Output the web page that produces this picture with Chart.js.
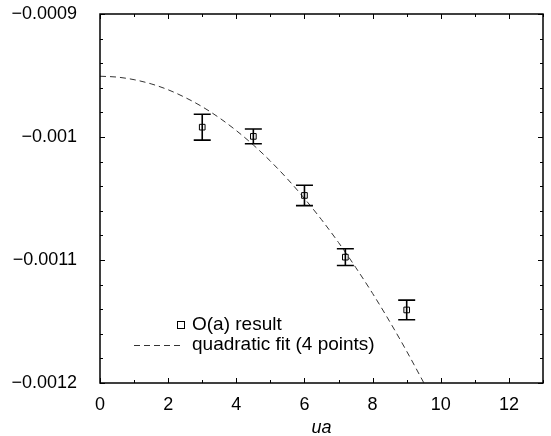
<!DOCTYPE html>
<html>
<head>
<meta charset="utf-8">
<script src="https://cdn.jsdelivr.net/npm/chart.js@4/dist/chart.umd.min.js"></script>
<style>
  html, body { margin: 0; padding: 0; background: #fff; }
  #wrap { width: 551px; height: 436px; }
</style>
</head>
<body>
<div id="wrap"><canvas id="chart" width="551" height="436"></canvas></div>
<script>
// dane
const uaValues = [3, 4.5, 6, 7.2, 9];
const resultValues = [-0.000992, -0.0009995, -0.0010475, -0.0010977, -0.0011406];
const resultErrors = [0.0000105, 0.000006, 0.0000083, 0.0000068, 0.000008];

// krzywa dopasowania
const fitX = [0, 0.5, 1, 1.5, 2, 2.5, 3, 3.5, 4, 4.5, 5, 5.5, 6, 6.5, 7, 7.5, 8, 8.5, 9, 9.5];
const fitY = [-0.0009506, -0.0009513, -0.0009534, -0.0009568, -0.0009616, -0.0009679, -0.0009754,
              -0.0009844, -0.0009948, -0.0010065, -0.0010196, -0.0010341, -0.00105, -0.0010672,
              -0.0010858, -0.0011059, -0.0011272, -0.00115, -0.0011742, -0.0011997];

const xTicks = [0, 2, 4, 6, 8, 10, 12];
const yTicks = [-0.0009, -0.001, -0.0011, -0.0012];
const yTickLabels = ['\u22120.0009', '\u22120.001', '\u22120.0011', '\u22120.0012'];

const legendLabels = ['O(a) result', 'quadratic fit (4 points)'];
const FONT = '"Liberation Sans", Arial, Helvetica, sans-serif';

// --- ramka, ticki do środka, słupki błędów, legenda ---
const framePlugin = {
    id: 'frame',
    afterDatasetsDraw(chart) {
        const ctx = chart.ctx;
        const { left, right, top, bottom } = chart.chartArea;
        const xs = chart.scales.x;
        const ys = chart.scales.y;
        ctx.save();

        // słupki błędów
        ctx.strokeStyle = '#000';
        ctx.lineWidth = 1.6;
        uaValues.forEach((u, i) => {
            const px = xs.getPixelForValue(u);
            const yHi = ys.getPixelForValue(resultValues[i] + resultErrors[i]);
            const yLo = ys.getPixelForValue(resultValues[i] - resultErrors[i]);
            ctx.beginPath();
            ctx.moveTo(px, yHi); ctx.lineTo(px, yLo);
            ctx.moveTo(px - 8.5, yHi); ctx.lineTo(px + 8.5, yHi);
            ctx.moveTo(px - 8.5, yLo); ctx.lineTo(px + 8.5, yLo);
            ctx.stroke();
        });

        // ramka
        ctx.lineWidth = 1.5;
        ctx.strokeRect(left, top, right - left, bottom - top);

        // ticki
        ctx.lineWidth = 1;
        ctx.beginPath();
        for (let v = 0; v <= 13; v += 1) {
            const px = Math.round(xs.getPixelForValue(v)) + 0.5;
            const len = (v % 2 === 0) ? 5 : 3;
            ctx.moveTo(px, bottom); ctx.lineTo(px, bottom - len);
            ctx.moveTo(px, top); ctx.lineTo(px, top + len);
        }
        for (let k = 0; k <= 15; k++) {
            const v = -0.0012 + k * 0.00002;
            const py = Math.round(ys.getPixelForValue(v)) + 0.5;
            const len = (k % 5 === 0) ? 5 : 3;
            ctx.moveTo(left, py); ctx.lineTo(left + len, py);
            ctx.moveTo(right, py); ctx.lineTo(right - len, py);
        }
        ctx.stroke();

        // legenda
        ctx.fillStyle = '#000';
        ctx.font = '19px ' + FONT;
        ctx.textBaseline = 'middle';
        ctx.textAlign = 'left';
        ctx.lineWidth = 1;
        ctx.strokeRect(177.5, 321.5, 7, 7);
        ctx.fillText(legendLabels[0], 192, 325);
        ctx.strokeStyle = '#333';
        ctx.setLineDash([6, 4]);
        ctx.beginPath();
        ctx.moveTo(134, 345.5); ctx.lineTo(182, 345.5);
        ctx.stroke();
        ctx.setLineDash([]);
        ctx.fillText(legendLabels[1], 192, 345);

        ctx.restore();
    }
};

new Chart(document.getElementById('chart'), {
    type: 'scatter',
    data: {
        datasets: [
            {
                label: legendLabels[0],
                data: uaValues.map((u, i) => ({ x: u, y: resultValues[i] })),
                pointStyle: 'rect',
                pointRadius: 4,
                pointBorderWidth: 1,
                pointBorderColor: '#000',
                pointBackgroundColor: 'rgba(0,0,0,0)',
                showLine: false
            },
            {
                label: legendLabels[1],
                data: fitX.map((x, i) => ({ x: x, y: fitY[i] })),
                showLine: true,
                borderColor: '#333',
                borderWidth: 1,
                borderDash: [6, 4],
                pointRadius: 0,
                cubicInterpolationMode: 'monotone',
                fill: false
            }
        ]
    },
    options: {
        responsive: false,
        animation: false,
        layout: { padding: { top: 14, right: 8, left: 0, bottom: 0 } },
        plugins: {
            legend: { display: false },
            tooltip: { enabled: false }
        },
        scales: {
            x: {
                type: 'linear',
                min: 0,
                max: 13,
                grid: { display: false },
                border: { display: false },
                afterBuildTicks: (scale) => { scale.ticks = xTicks.map(v => ({ value: v })); },
                afterFit: (scale) => {
                    scale.height = 53;
                    scale.paddingLeft = 0;
                    scale.paddingRight = 0;
                },
                ticks: {
                    color: '#000',
                    padding: 3,
                    maxRotation: 0,
                    font: { family: FONT, size: 18 },
                    callback: (v) => String(v)
                },
                title: {
                    display: true,
                    text: 'ua',
                    color: '#000',
                    padding: { top: 0, bottom: 0 },
                    font: { family: FONT, size: 18, style: 'italic', lineHeight: 0.9 }
                }
            },
            y: {
                type: 'linear',
                min: -0.0012,
                max: -0.0009,
                grid: { display: false },
                border: { display: false },
                afterBuildTicks: (scale) => { scale.ticks = yTicks.map(v => ({ value: v })); },
                afterFit: (scale) => {
                    scale.width = 100;
                    scale.paddingTop = 0;
                    scale.paddingBottom = 0;
                },
                ticks: {
                    color: '#000',
                    padding: 15,
                    font: { family: FONT, size: 18 },
                    callback: (v, i) => yTickLabels[i]
                }
            }
        }
    },
    plugins: [framePlugin]
});
</script>
</body>
</html>
